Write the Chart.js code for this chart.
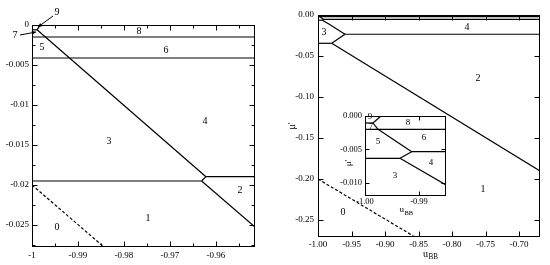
<!DOCTYPE html>
<html><head><meta charset="utf-8">
<script src="https://cdn.jsdelivr.net/npm/chart.js@4"></script>
<style>
html,body{margin:0;padding:0;background:#fff;}
#wrap{position:relative;width:550px;height:265px;overflow:hidden;background:#fff;}
canvas{position:absolute;}
</style></head><body>
<div id="wrap">
<canvas id="cL" width="270" height="265" style="left:0;top:0;width:270px;height:265px"></canvas>
<canvas id="cR" width="280" height="265" style="left:270px;top:0;width:280px;height:265px"></canvas>
<canvas id="cI" width="125" height="115" style="left:330px;top:105px;width:125px;height:115px"></canvas>
</div>
<script>
// ---------- LEFT PANEL DATA ----------
const leftXRange = [-1, -0.9515];
const leftYRange = [-0.02775, 0];
const leftXTicks = [-1, -0.99, -0.98, -0.97, -0.96];
const leftXTickLabels = ['-1', '-0.99', '-0.98', '-0.97', '-0.96'];
const leftXMinor = [-0.995, -0.985, -0.975, -0.965, -0.955];
const leftYTicks = [0, -0.005, -0.01, -0.015, -0.02, -0.025];
const leftYTickLabels = ['0', '-0.005', '-0.01', '-0.015', '-0.02', '-0.025'];
const leftYMinor = [-0.0025, -0.0075, -0.0125, -0.0175, -0.0225, -0.0275];

const left_9_7 = [[-1, -0.0006], [-0.9989, -0.0006]];
const left_9_8 = [[-0.9989, -0.0006], [-0.9982, 0]];
const left_8_6 = [[-1, -0.0015], [-0.9515, -0.0015]];
const left_5_3 = [[-1, -0.004125], [-0.9515, -0.004125]];
const left_3_4 = [[-0.9989, -0.0006], [-0.96217, -0.01896]];
const left_4_2 = [[-0.96217, -0.01896], [-0.9515, -0.01896]];
const left_junc = [[-0.96217, -0.01896], [-0.96311, -0.0195]];
const left_3_1 = [[-1, -0.0195], [-0.96311, -0.0195]];
const left_2_1 = [[-0.96311, -0.0195], [-0.9515, -0.02525]];
const left_1_0 = [[-1, -0.02], [-0.98435, -0.02775]];

const leftRegionNames = ['0', '1', '2', '3', '4', '5', '6', '8'];
const leftRegionX = [-0.99457, -0.97478, -0.95478, -0.98326, -0.96239, -0.99783, -0.97087, -0.97674];
const leftRegionY = [-0.02525, -0.024125, -0.020625, -0.0145, -0.012, -0.00275, -0.003125, -0.00075];
// annotated regions with arrows: label, label pos, arrow tail, arrow tip
const leftArrowNames = ['9', '7'];
const leftArrowLabel = [[-0.99457, 0.001625], [-1.0037, -0.00135]];
const leftArrowTail = [[-0.99543, 0.001125], [-1.00261, -0.00125]];
const leftArrowTip = [[-0.9987, -0.00025], [-0.99913, -0.000875]];

// ---------- RIGHT PANEL DATA ----------
const rightXRange = [-1, -0.6687];
const rightYRange = [-0.2707, 0];
const rightXTicks = [-1, -0.95, -0.9, -0.85, -0.8, -0.75, -0.7];
const rightXTickLabels = ['-1.00', '-0.95', '-0.90', '-0.85', '-0.80', '-0.75', '-0.70'];
const rightYTicks = [0, -0.05, -0.1, -0.15, -0.2, -0.25];
const rightYTickLabels = ['0.00', '-0.05', '-0.10', '-0.15', '-0.20', '-0.25'];

const right_9_7 = [[-1, -0.00105], [-0.99852, -0.00105]];
const right_9_8 = [[-0.99852, -0.00105], [-0.99704, 0]];
const right_7_8 = [[-0.99852, -0.00105], [-0.99759, -0.002]];
const right_7_5 = [[-1, -0.002], [-0.6687, -0.002]];
const right_5_6 = [[-0.99759, -0.002], [-0.99135, -0.00535]];
const right_6_4 = [[-0.99135, -0.00535], [-0.6687, -0.00535]];
const right_junc1 = [[-0.99135, -0.00535], [-0.99352, -0.00635]];
const right_5_3 = [[-1, -0.00635], [-0.99352, -0.00635]];
const right_3_4 = [[-0.99352, -0.00635], [-0.985, -0.01035], [-0.9597, -0.0235]];
const right_4_2 = [[-0.9597, -0.0235], [-0.6687, -0.0235]];
const right_junc2 = [[-0.9597, -0.0235], [-0.97955, -0.0345]];
const right_3_1 = [[-1, -0.0345], [-0.97955, -0.0345]];
const right_2_1 = [[-0.97955, -0.0345], [-0.6687, -0.1902]];
const right_1_0 = [[-1, -0.2], [-0.8552, -0.2707]];

const rightRegionNames = ['0', '1', '2', '3', '4'];
const rightRegionX = [-0.96269, -0.75373, -0.7612, -0.99104, -0.77761];
const rightRegionY = [-0.24024, -0.2122, -0.07683, -0.02073, -0.01463];

// ---------- INSET DATA ----------
const insetXRange = [-1, -0.985];
const insetYRange = [-0.012, 0];
const insetXTicks = [-1, -0.99];
const insetXTickLabels = ['-1.00', '-0.99'];
const insetYTicks = [0, -0.005, -0.01];
const insetYTickLabels = ['0.000', '-0.005', '-0.010'];
const insetRegionNames = ['9', '7', '8', '5', '6', '4', '3'];
const insetRegionX = [-0.99907, -0.99889, -0.99204, -0.99759, -0.98907, -0.98778, -0.99444];
const insetRegionY = [-0.00015, -0.00165, -0.00105, -0.0039, -0.0033, -0.00705, -0.009];

// ---------- RENDERING ----------
const SERIF = "'Liberation Serif','Times New Roman',serif";
Chart.defaults.font.family = SERIF;
Chart.defaults.color = '#000';
Chart.defaults.animation = false;

function seg(points, dashed) {
  return {
    data: points.map(p => ({x: p[0], y: p[1]})),
    showLine: true, borderColor: '#000', borderWidth: 1.2, pointRadius: 0,
    pointHoverRadius: 0, fill: false, tension: 0, borderDash: dashed ? [3, 2] : []
  };
}

function xAxis(range, ticks, labels, h, pad, fs) {
  return {
    type: 'linear', position: 'bottom', min: range[0], max: range[1],
    grid: {display: false, drawTicks: false}, border: {display: false},
    afterBuildTicks: s => { s.ticks = ticks.map(v => ({value: v})); },
    ticks: {autoSkip: false, maxRotation: 0, minRotation: 0, padding: pad,
      font: {size: fs, family: SERIF}, color: '#000', callback: (v, i) => labels[i]},
    afterFit: s => { s.height = h; }
  };
}
function yAxis(range, ticks, labels, w, pad, fs) {
  return {
    type: 'linear', position: 'left', min: range[0], max: range[1],
    grid: {display: false, drawTicks: false}, border: {display: false},
    afterBuildTicks: s => { s.ticks = ticks.map(v => ({value: v})); },
    ticks: {autoSkip: false, padding: pad, font: {size: fs, family: SERIF}, color: '#000',
      callback: (v, i) => labels[i]},
    afterFit: s => { s.width = w; }
  };
}

function drawUBB(ctx, x, y, fs) {
  ctx.textAlign = 'left'; ctx.textBaseline = 'middle';
  ctx.font = fs + 'px ' + SERIF;
  ctx.fillText('u', x, y);
  const w = ctx.measureText('u').width;
  ctx.font = (fs * 0.72) + 'px ' + SERIF;
  ctx.fillText('BB', x + w + 0.5, y + fs * 0.35);
}

function deco(cfg) {
  return {
    id: 'deco',
    beforeDatasetsDraw(chart) {
      if (!cfg.fill) return;
      const a = chart.chartArea, ctx = chart.ctx;
      ctx.save(); ctx.fillStyle = '#fff';
      ctx.fillRect(a.left, a.top, a.right - a.left, a.bottom - a.top); ctx.restore();
    },
    afterDraw(chart) {
      const ctx = chart.ctx, a = chart.chartArea, xs = chart.scales.x, ys = chart.scales.y;
      ctx.save();
      ctx.strokeStyle = '#000'; ctx.fillStyle = '#000'; ctx.lineWidth = 1;
      const L = Math.round(a.left) + 0.5, R = Math.round(a.right) - 0.5;
      const T = Math.round(a.top) + 0.5, B = Math.round(a.bottom) - 0.5;
      ctx.strokeRect(L, T, R - L, B - T);
      ctx.beginPath();
      const tickX = (vals, len) => vals.forEach(v => {
        const p = Math.round(xs.getPixelForValue(v)) + 0.5;
        ctx.moveTo(p, B); ctx.lineTo(p, B - len); ctx.moveTo(p, T); ctx.lineTo(p, T + len);
      });
      const tickY = (vals, len) => vals.forEach(v => {
        const p = Math.round(ys.getPixelForValue(v)) + 0.5;
        ctx.moveTo(L, p); ctx.lineTo(L + len, p); ctx.moveTo(R, p); ctx.lineTo(R - len, p);
      });
      tickX(cfg.xMajor, cfg.majorLen); tickY(cfg.yMajor, cfg.majorLen);
      if (cfg.xMinor) tickX(cfg.xMinor, cfg.minorLen);
      if (cfg.yMinor) tickY(cfg.yMinor, cfg.minorLen);
      ctx.stroke();
      // region labels
      ctx.font = cfg.labelSize + 'px ' + SERIF;
      ctx.textAlign = 'center'; ctx.textBaseline = 'middle';
      cfg.names.forEach((n, i) => {
        ctx.fillText(n, xs.getPixelForValue(cfg.lx[i]), ys.getPixelForValue(cfg.ly[i]));
      });
      // arrows
      if (cfg.arrows) {
        cfg.arrows.names.forEach((n, i) => {
          const lp = cfg.arrows.label[i], tl = cfg.arrows.tail[i], tp = cfg.arrows.tip[i];
          ctx.fillText(n, xs.getPixelForValue(lp[0]), ys.getPixelForValue(lp[1]));
          const x0 = xs.getPixelForValue(tl[0]), y0 = ys.getPixelForValue(tl[1]);
          const x1 = xs.getPixelForValue(tp[0]), y1 = ys.getPixelForValue(tp[1]);
          ctx.beginPath(); ctx.moveTo(x0, y0); ctx.lineTo(x1, y1); ctx.stroke();
          const ang = Math.atan2(y1 - y0, x1 - x0), hl = 4.5, hw = 0.45;
          ctx.beginPath(); ctx.moveTo(x1, y1);
          ctx.lineTo(x1 - hl * Math.cos(ang - hw), y1 - hl * Math.sin(ang - hw));
          ctx.lineTo(x1 - hl * Math.cos(ang + hw), y1 - hl * Math.sin(ang + hw));
          ctx.closePath(); ctx.fill();
        });
      }
      // axis titles
      if (cfg.xTitle) drawUBB(ctx, (a.left + a.right) / 2 + cfg.xTitle[0], a.bottom + cfg.xTitle[1], cfg.titleSize);
      if (cfg.yTitle) {
        ctx.save();
        ctx.translate(a.left + cfg.yTitle[0], (a.top + a.bottom) / 2 + cfg.yTitle[1]);
        ctx.rotate(-Math.PI / 2);
        ctx.font = cfg.titleSize + 'px ' + SERIF;
        ctx.textAlign = 'center'; ctx.textBaseline = 'middle';
        ctx.fillText("\u03bc'", 0, 0);
        ctx.restore();
      }
      ctx.restore();
    }
  };
}

const baseOpts = (padding) => ({
  responsive: false, animation: false, events: [],
  layout: {padding: padding},
  plugins: {legend: {display: false}, tooltip: {enabled: false}}
});

// Left chart
new Chart(document.getElementById('cL'), {
  type: 'scatter',
  data: {datasets: [
    seg(left_9_7), seg(left_9_8), seg(left_8_6), seg(left_5_3), seg(left_3_4),
    seg(left_4_2), seg(left_junc), seg(left_3_1), seg(left_2_1), seg(left_1_0, true)
  ]},
  options: Object.assign(baseOpts({left: 0, top: 25, right: 15, bottom: 0}), {
    scales: {
      x: xAxis(leftXRange, leftXTicks, leftXTickLabels, 18, 3, 9),
      y: yAxis(leftYRange, leftYTicks, leftYTickLabels, 32, 3, 9)
    }
  }),
  plugins: [deco({xMajor: leftXTicks, yMajor: leftYTicks, xMinor: leftXMinor, yMinor: leftYMinor,
    majorLen: 5, minorLen: 3, names: leftRegionNames, lx: leftRegionX, ly: leftRegionY, labelSize: 10,
    arrows: {names: leftArrowNames, label: leftArrowLabel, tail: leftArrowTail, tip: leftArrowTip}})]
});

const rightSets = () => [
  seg(right_9_7), seg(right_9_8), seg(right_7_8), seg(right_7_5), seg(right_5_6), seg(right_6_4),
  seg(right_junc1), seg(right_5_3), seg(right_3_4), seg(right_4_2), seg(right_junc2),
  seg(right_3_1), seg(right_2_1), seg(right_1_0, true)
];

// Right chart
new Chart(document.getElementById('cR'), {
  type: 'scatter',
  data: {datasets: rightSets()},
  options: Object.assign(baseOpts({left: 0, top: 15, right: 10, bottom: 0}), {
    scales: {
      x: xAxis(rightXRange, rightXTicks, rightXTickLabels, 28, 2, 9),
      y: yAxis(rightYRange, rightYTicks, rightYTickLabels, 48, 4, 9)
    }
  }),
  plugins: [deco({xMajor: rightXTicks, yMajor: rightYTicks, majorLen: 5, names: rightRegionNames,
    lx: rightRegionX, ly: rightRegionY, labelSize: 10, xTitle: [-6, 17], yTitle: [-26, 0], titleSize: 10})]
});

// Inset chart
new Chart(document.getElementById('cI'), {
  type: 'scatter',
  data: {datasets: rightSets()},
  options: Object.assign(baseOpts({left: 0, top: 11, right: 9, bottom: 0}), {
    scales: {
      x: xAxis(insetXRange, insetXTicks, insetXTickLabels, 24, 1, 8.5),
      y: yAxis(insetYRange, insetYTicks, insetYTickLabels, 35, 3, 8.5)
    }
  }),
  plugins: [deco({fill: true, xMajor: insetXTicks, yMajor: insetYTicks, majorLen: 4, names: insetRegionNames,
    lx: insetRegionX, ly: insetRegionY, labelSize: 9, xTitle: [-6, 14], yTitle: [-16, 7], titleSize: 9})]
});
</script>
</body></html>
